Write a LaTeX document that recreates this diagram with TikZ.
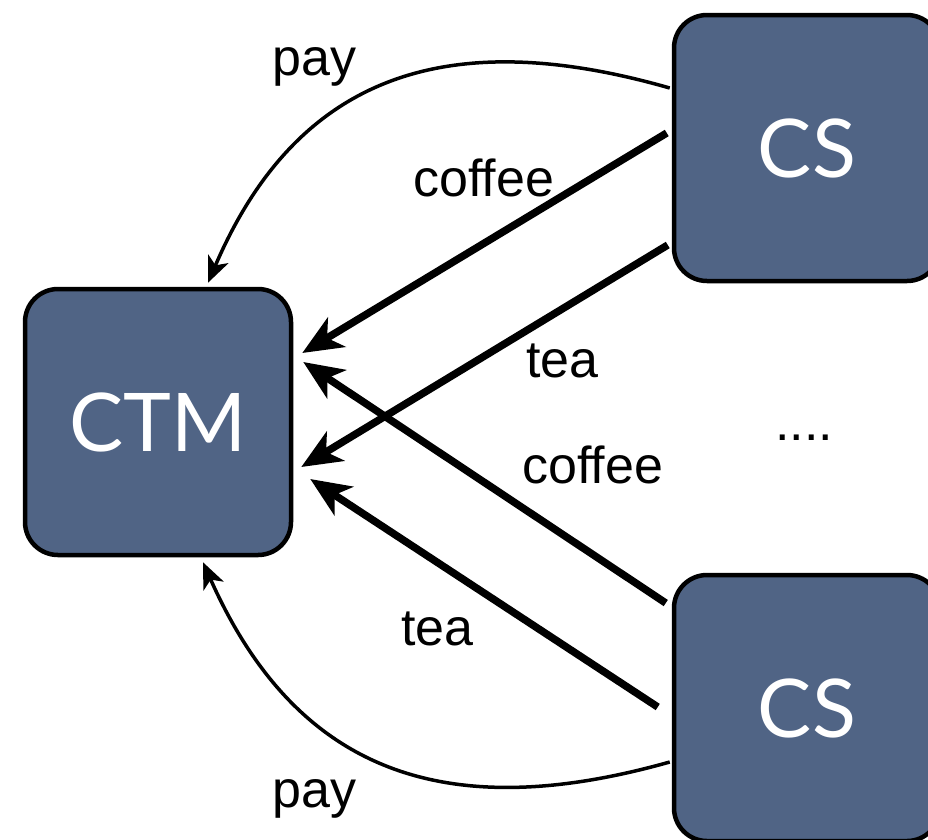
\documentclass[tikz,border=0pt]{standalone}
\usepackage{fontspec}
\setmainfont{Liberation Sans}
\newfontfamily\boxfont{Lato}
\usetikzlibrary{arrows.meta,calc}
\definecolor{boxblue}{RGB}{80,100,133}
\begin{document}
\begin{tikzpicture}[x=1pt,y=-1pt,
  box/.style={draw=black, line width=4.5pt, fill=boxblue, rounded corners=33pt,
    minimum width=266pt, minimum height=266pt, inner sep=0pt,
    font=\boxfont\fontsize{81}{81}\selectfont, text=white},
  lbl/.style={font=\fontsize{52}{52}\selectfont, anchor=base west, inner sep=0pt},
  heavy/.style={line width=7.5pt, -{Stealth[length=40pt,width=34pt,inset=11pt]}},
  light/.style={line width=3.5pt, -{Stealth[length=26pt,width=22pt,inset=7pt]}}]
\useasboundingbox (0,0) rectangle (928,839);
\clip (0,0) rectangle (928,839);
\node[box] (ctm) at (158,422) {CTM};
\node[box] (cs1) at (807,148) {CS};
\node[box] (cs2) at (807,708) {CS};

\draw[light] ($(cs1.west)+(-2,-60)$) .. controls +(-220,-63) and +(90,-210) .. ($(ctm.north)+(50,-4)$);
\draw[heavy] ($(cs1.west)+(-5,-15)$) -- ($(ctm.east)+(9,-69)$);
\draw[heavy] ($(cs1.west)+(-4,97)$) -- ($(ctm.east)+(8,45)$);
\draw[heavy] ($(cs2.west)+(-6,-105)$) -- ($(ctm.east)+(10,-60)$);
\draw[heavy] ($(cs2.west)+(-14,-1)$) -- ($(ctm.east)+(17,57)$);
\draw[light] ($(cs2.west)+(-2,54)$) .. controls +(-220,62) and +(95,214) .. ($(ctm.south)+(45,5)$);

\node[lbl] (pay1) at (272,75) {pay};
\node[lbl] (coffee1) at (413,196) {coffee};
\node[lbl] (tea1) at (526,377) {tea};
\node[lbl] (coffee2) at (522,483) {coffee};
\node[lbl] (tea2) at (401,645) {tea};
\node[lbl] (pay2) at (272,807) {pay};
\node[lbl] (dots) at (775,440) {....};
\end{tikzpicture}
\end{document}
